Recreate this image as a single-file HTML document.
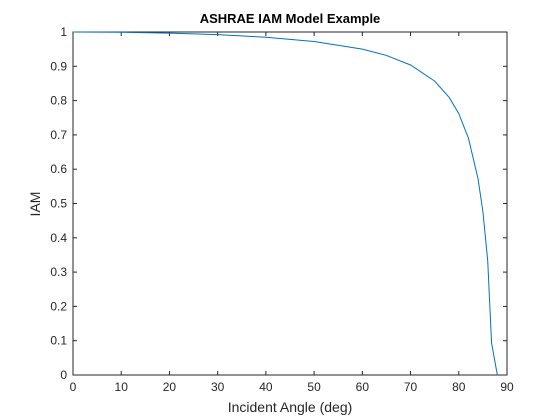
<!DOCTYPE html>
<html><head><meta charset="utf-8"><style>
body{margin:0;background:#fff;}
svg{display:block;font-family:"Liberation Sans",Arial,sans-serif;}
</style></head><body>
<svg id="chart" width="560" height="420" viewBox="0 0 560 420">
<rect width="560" height="420" fill="#fff"/>
<text x="290" y="23" text-anchor="middle" font-size="13" font-weight="bold" fill="#000">ASHRAE IAM Model Example</text>
<g id="axes"></g>
<text x="290" y="412" text-anchor="middle" font-size="14" fill="#262626">Incident Angle (deg)</text>
<text x="0" y="0" transform="translate(40,204) rotate(-90)" text-anchor="middle" font-size="14" fill="#262626">IAM</text>
</svg>
<script>
const angles = [0,10,20,30,40,50,60,65,70,75,78,80,82,84,85,86,86.8,88.0];
const iamValues = [1,0.9992,0.9968,0.9923,0.9847,0.9722,0.95,0.9317,0.9038,0.8568,0.8095,0.7621,0.6907,0.5717,0.4763,0.3332,0.093,0];
const xTicks = [0,10,20,30,40,50,60,70,80,90];
const yTicks = [0,0.1,0.2,0.3,0.4,0.5,0.6,0.7,0.8,0.9,1];

const L=73,R=507,T=32,B=375;
const xs=v=>L+(v-0)/(90-0)*(R-L);
const ys=v=>B-(v-0)/(1-0)*(B-T);
const NS="http://www.w3.org/2000/svg";
const g=document.getElementById('axes');
function mk(tag,attrs){const e=document.createElementNS(NS,tag);for(const k in attrs)e.setAttribute(k,attrs[k]);return e;}

const box=mk('rect',{x:L,y:T,width:R-L,height:B-T,fill:'#fff',stroke:'#262626','stroke-width':1});


g.appendChild(box);

xTicks.forEach(t=>{
  const x=xs(t);
  const l1=mk('line',{x1:x,y1:B,x2:x,y2:B-4,stroke:'#262626'});
  
  
  g.appendChild(l1);
  const l2=mk('line',{x1:x,y1:T,x2:x,y2:T+4,stroke:'#262626'});
  
  
  g.appendChild(l2);
  const tx=mk('text',{x:x,y:B+16,'text-anchor':'middle','font-size':12,fill:'#262626'});
  tx.textContent=t;
  
  
  g.appendChild(tx);
});
yTicks.forEach(t=>{
  const y=ys(t);
  const l1=mk('line',{x1:L,y1:y,x2:L+4,y2:y,stroke:'#262626'});
  
  
  g.appendChild(l1);
  const l2=mk('line',{x1:R,y1:y,x2:R-4,y2:y,stroke:'#262626'});
  
  
  g.appendChild(l2);
  const tx=mk('text',{x:L-6,y:y+4,'text-anchor':'end','font-size':12,fill:'#262626'});
  tx.textContent=String(t);
  
  
  g.appendChild(tx);
});

const pts=angles.map((a,i)=>xs(a).toFixed(2)+','+ys(iamValues[i]).toFixed(2)).join(' ');
const line=mk('polyline',{points:pts,fill:'none',stroke:'#0072BD','stroke-width':1});


g.appendChild(line);
</script>
</body></html>
